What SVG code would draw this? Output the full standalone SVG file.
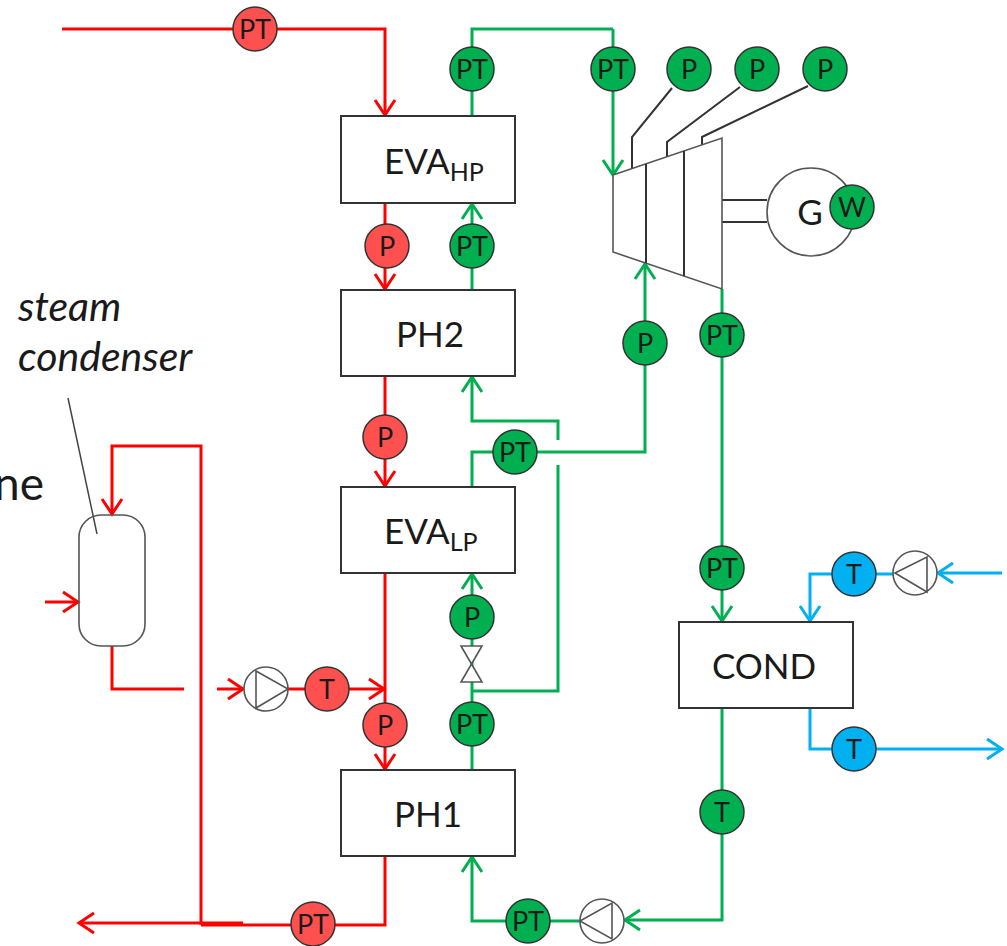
<svg xmlns="http://www.w3.org/2000/svg" width="1007" height="946" viewBox="0 0 1007 946">
<style>
text{font-family:"Lato","Open Sans","Liberation Sans",sans-serif;fill:#1a1a1a}
.pipe{fill:none;stroke-width:3}
.r{stroke:#f00}.g{stroke:#00b050}.b{stroke:#00b0f0}
.ar{marker-end:url(#ar)}.ag{marker-end:url(#ag)}.ab{marker-end:url(#ab)}
.box{fill:#fff;stroke:#333;stroke-width:2}
.line{fill:none;stroke:#333;stroke-width:2}
.sym{fill:#fff;stroke:#555;stroke-width:1.6}
.cr,.cg,.cb{stroke:#333;stroke-width:1.5}
.cr{fill:#ff5050}.cg{fill:#00b050}.cb{fill:#00b0f0}
.i{font-size:27px;text-anchor:middle}
.l{font-size:35px;text-anchor:middle}
.st{font-size:35px}
.s{font-size:25px}
.n{font-size:41px;font-style:italic}
</style>
<defs>
<marker id="ar" markerUnits="userSpaceOnUse" viewBox="-17 -12 20 24" refX="0" refY="0" markerWidth="20" markerHeight="24" orient="auto"><path d="M-15,-10 L0,0 L-15,10" fill="none" stroke="#f00" stroke-width="3"/></marker>
<marker id="ag" markerUnits="userSpaceOnUse" viewBox="-17 -12 20 24" refX="0" refY="0" markerWidth="20" markerHeight="24" orient="auto"><path d="M-15,-10 L0,0 L-15,10" fill="none" stroke="#00b050" stroke-width="3"/></marker>
<marker id="ab" markerUnits="userSpaceOnUse" viewBox="-17 -12 20 24" refX="0" refY="0" markerWidth="20" markerHeight="24" orient="auto"><path d="M-15,-10 L0,0 L-15,10" fill="none" stroke="#00b0f0" stroke-width="3"/></marker>
</defs>

<g id="connectors">
<path class="pipe r ar" d="M62,29H385V115"/>
<path class="pipe r ar" d="M385,203V289"/>
<path class="pipe r ar" d="M385,376V486"/>
<path class="pipe r ar" d="M385,573V769"/>
<path class="pipe r ar" d="M201,925V446H112V514"/>
<path class="pipe r ar" d="M45,602H78"/>
<path class="pipe r" d="M112,646V689H184"/>
<path class="pipe r ar" d="M217,689H243"/>
<path class="pipe r ar" d="M288,689H384"/>
<path class="pipe r" d="M385,856V925H201"/>
<path class="pipe r ar" d="M243,923H79"/>
<path class="pipe g" d="M472,116V29H613"/>
<path class="pipe g ag" d="M613,29V175"/>
<path class="pipe g ag" d="M472,290V204"/>
<path class="pipe g ag" d="M558,440V421H472V377"/>
<path class="pipe g" d="M558,465V691H472"/>
<path class="pipe g ag" d="M472,487V452H645V264"/>
<path class="pipe g ag" d="M472,770V574"/>
<path class="pipe g ag" d="M722,289V621"/>
<path class="pipe g ag" d="M722,708V920H625"/>
<path class="pipe g ag" d="M580,921H472V857"/>
<path class="pipe b ab" d="M1002,573H938"/>
<path class="pipe b ab" d="M895,574H810V621"/>
<path class="pipe b ab" d="M810,708V749H1002"/>
<path class="line" d="M672,88L632,137V168M740,87L667,142V157M808,86L702,137V146"/>
<path class="line" d="M722,200H767M722,222H767"/>
<path d="M68,398L97,534" fill="none" stroke="#444" stroke-width="1.5"/>
</g>

<g id="evahp"><rect class="box" x="341" y="116" width="174" height="87"/><text x="384" y="174" class="st">EVA<tspan class="s" dy="7">HP</tspan></text></g>
<g id="ph2"><rect class="box" x="341" y="290" width="174" height="86"/><text x="430" y="347" class="l">PH2</text></g>
<g id="evalp"><rect class="box" x="341" y="487" width="174" height="86"/><text x="384" y="544" class="st">EVA<tspan class="s" dy="7">LP</tspan></text></g>
<g id="ph1"><rect class="box" x="341" y="770" width="174" height="86"/><text x="428" y="827" class="l">PH1</text></g>
<g id="cond"><rect class="box" x="679" y="622" width="174" height="86"/><text x="764" y="679" class="l">COND</text></g>

<g id="turbine"><path d="M613,175L722,138V289L613,252Z" class="sym"/><path class="line" d="M646,164V263M684,151V276"/></g>
<g id="generator"><circle class="sym" cx="811" cy="212" r="44"/><text x="810" y="225" class="l">G</text></g>
<g id="condenser"><rect class="sym" style="fill:none" x="79" y="515" width="66" height="131" rx="22"/></g>
<g id="valve"><path class="sym" d="M461,646H482L461,682H482Z"/></g>
<g id="pump-red"><circle class="sym" cx="266" cy="689" r="22"/><path class="sym" d="M256,671L288,689L256,708Z"/></g>
<g id="pump-green"><circle class="sym" cx="602" cy="921" r="22"/><path class="sym" d="M580,921L612,903V939Z"/></g>
<g id="pump-blue"><circle class="sym" cx="915" cy="573" r="22"/><path class="sym" d="M895,573L927,557V592Z"/></g>

<g id="s1"><circle class="cr" cx="255" cy="29" r="22"/><text x="255" y="39" class="i">PT</text></g>
<g id="s2"><circle class="cr" cx="387" cy="246" r="22"/><text x="387" y="256" class="i">P</text></g>
<g id="s3"><circle class="cr" cx="385" cy="437" r="22"/><text x="385" y="447" class="i">P</text></g>
<g id="s4"><circle class="cr" cx="327" cy="689" r="22"/><text x="327" y="699" class="i">T</text></g>
<g id="s5"><circle class="cr" cx="385" cy="725" r="22"/><text x="385" y="735" class="i">P</text></g>
<g id="s6"><circle class="cr" cx="313" cy="924" r="22"/><text x="313" y="934" class="i">PT</text></g>
<g id="s7"><circle class="cg" cx="472" cy="69" r="22"/><text x="472" y="79" class="i">PT</text></g>
<g id="s8"><circle class="cg" cx="613" cy="69" r="22"/><text x="613" y="79" class="i">PT</text></g>
<g id="s9"><circle class="cg" cx="689" cy="69" r="22"/><text x="689" y="79" class="i">P</text></g>
<g id="s10"><circle class="cg" cx="757" cy="69" r="22"/><text x="757" y="79" class="i">P</text></g>
<g id="s11"><circle class="cg" cx="825" cy="69" r="22"/><text x="825" y="79" class="i">P</text></g>
<g id="s12"><circle class="cg" cx="852" cy="207" r="22"/><text x="852" y="217" class="i">W</text></g>
<g id="s13"><circle class="cg" cx="472" cy="246" r="22"/><text x="472" y="256" class="i">PT</text></g>
<g id="s14"><circle class="cg" cx="515" cy="452" r="22"/><text x="515" y="462" class="i">PT</text></g>
<g id="s15"><circle class="cg" cx="645" cy="343" r="22"/><text x="645" y="353" class="i">P</text></g>
<g id="s16"><circle class="cg" cx="722" cy="335" r="22"/><text x="722" y="345" class="i">PT</text></g>
<g id="s17"><circle class="cg" cx="722" cy="568" r="22"/><text x="722" y="578" class="i">PT</text></g>
<g id="s18"><circle class="cg" cx="472" cy="617" r="22"/><text x="472" y="627" class="i">P</text></g>
<g id="s19"><circle class="cg" cx="472" cy="724" r="22"/><text x="472" y="734" class="i">PT</text></g>
<g id="s20"><circle class="cg" cx="722" cy="812" r="22"/><text x="722" y="822" class="i">T</text></g>
<g id="s21"><circle class="cg" cx="528" cy="921" r="22"/><text x="528" y="931" class="i">PT</text></g>
<g id="s22"><circle class="cb" cx="854" cy="574" r="22"/><text x="854" y="584" class="i">T</text></g>
<g id="s23"><circle class="cb" cx="854" cy="749" r="22"/><text x="854" y="759" class="i">T</text></g>

<text x="18" y="321" class="n">steam</text>
<text x="18" y="371" class="n">condenser</text>
<text x="-6" y="500" font-size="46">ne</text>
</svg>
